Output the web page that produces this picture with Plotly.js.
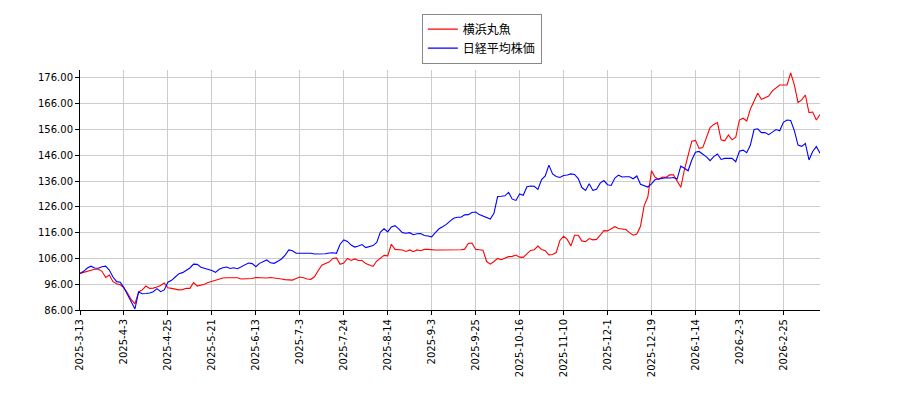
<!DOCTYPE html>
<html>
<head>
<meta charset="utf-8">
<script src="https://cdn.plot.ly/plotly-3.0.1.min.js"></script>
<style>
  body { margin: 0; background: #fff; }
  #chart { width: 900px; height: 400px; }
</style>
</head>
<body>
<div id="chart"></div>
<script>
const tickLabels = ['2025-3-13', '2025-4-3', '2025-4-25', '2025-5-21', '2025-6-13', '2025-7-3',
  '2025-7-24', '2025-8-14', '2025-9-3', '2025-9-25', '2025-10-16', '2025-11-10', '2025-12-1',
  '2025-12-19', '2026-1-14', '2026-2-3', '2026-2-25'];
const tickStep = 12;

/* 横浜丸魚 (red) */
const stockValues = [
  100.2, 100.6, 101.1, 101.6, 101.8, 101.8, 101.0, 98.6, 99.6, 97.0, 96.2, 95.8,
  94.6, 92.5, 90.0, 88.4, 93.0, 93.8, 95.3, 94.4, 94.5, 94.9, 95.5, 96.5,
  94.6, 94.4, 94.2, 93.8, 93.9, 94.4, 94.4, 96.6, 95.3, 95.6, 96.0, 96.7,
  97.1, 97.5, 98.1, 98.4, 98.5, 98.5, 98.5, 98.5, 98.0, 98.0, 98.0, 98.2,
  98.6, 98.5, 98.5, 98.4, 98.6, 98.3, 98.2, 98.0, 97.8, 97.6, 97.6, 98.2,
  98.8, 98.5, 98.0, 97.9, 98.9, 101.2, 103.4, 104.0, 104.6, 106.0, 106.2, 103.7,
  104.2, 106.0, 105.2, 105.8, 105.2, 105.2, 104.0, 103.5, 102.9, 105.0, 106.0, 107.2,
  107.0, 111.5, 109.5, 109.3, 109.3, 108.7, 109.3, 108.6, 109.3, 109.0, 109.5, 109.5,
  109.3, 109.3, 109.3, 109.3, 109.3, 109.3, 109.3, 109.3, 109.4, 109.6, 111.8, 112.0,
  109.5, 109.4, 109.2, 104.8, 103.8, 104.8, 106.0, 105.5, 106.0, 106.7, 106.8, 107.3,
  106.5, 106.4, 107.8, 109.1, 109.4, 110.8, 109.5, 109.0, 107.4, 107.5, 108.3, 113.0,
  114.6, 113.4, 110.8, 115.0, 115.0, 112.8, 112.5, 113.7, 113.2, 113.4, 115.0, 116.8,
  116.7, 117.5, 118.3, 117.6, 117.3, 117.2, 116.0, 115.0, 115.5, 118.5, 126.5, 129.8,
  140.0, 137.5, 136.7, 137.6, 137.5, 138.4, 138.4, 136.0, 133.6, 140.5, 145.5, 151.5,
  151.8, 148.7, 149.0, 153.2, 156.8, 158.0, 158.7, 152.0, 151.6, 153.9, 152.0, 153.0,
  159.7, 160.4, 159.3, 164.0, 167.0, 170.1, 167.7, 168.2, 169.0, 171.0, 172.0, 173.3,
  173.3, 173.3, 178.0, 173.3, 166.5, 167.5, 169.4, 162.6, 162.8, 159.7, 161.8
];

/* 日経平均株価 (blue) */
const nikkeiValues = [
  100.2, 101.0, 102.3, 103.0, 102.3, 102.2, 102.8, 103.0, 101.5, 98.8, 97.0, 96.8,
  94.6, 91.8, 89.3, 86.4, 93.0, 92.3, 92.4, 92.6, 93.1, 94.3, 93.1, 93.8,
  96.8, 97.5, 98.8, 100.1, 100.5, 101.3, 102.3, 103.8, 103.7, 102.6, 102.2, 101.9,
  101.3, 100.6, 101.8, 102.4, 102.7, 102.1, 102.4, 102.0, 102.8, 103.4, 104.2, 104.0,
  102.8, 104.1, 104.7, 105.4, 104.3, 104.1, 104.9, 105.8, 107.3, 109.3, 109.0, 108.0,
  108.0, 108.0, 107.8, 108.0, 107.7, 107.7, 107.6, 107.8, 108.1, 108.2, 108.0, 111.5,
  113.2, 112.6, 111.2, 110.4, 110.8, 111.4, 110.2, 110.6, 111.0, 112.2, 116.2, 117.5,
  116.3, 118.2, 118.7, 117.5, 116.0, 115.8, 116.0, 115.2, 115.6, 115.7, 114.9, 114.7,
  114.4, 116.0, 117.5, 118.3, 119.2, 120.5, 121.6, 122.0, 122.0, 122.9, 123.0, 123.8,
  124.0, 123.0, 122.4, 121.6, 121.3, 123.5, 130.0, 130.1, 130.3, 131.6, 129.0, 128.5,
  131.0, 130.5, 133.8, 134.1, 134.0, 132.8, 136.6, 138.0, 142.2, 138.8, 137.8, 137.4,
  138.2, 138.4, 138.8, 138.6, 137.0, 133.5, 132.4, 135.0, 132.4, 132.8, 135.2, 136.2,
  134.6, 134.3, 137.2, 138.3, 137.6, 137.7, 137.7, 136.9, 138.0, 134.8, 134.1, 133.7,
  134.9, 136.6, 136.8, 137.1, 137.3, 137.2, 137.4, 136.8, 141.8, 141.0, 140.0, 144.2,
  147.2, 147.5, 146.6, 145.4, 143.9, 145.5, 146.5, 144.4, 144.8, 144.8, 144.8, 143.5,
  147.6, 148.0, 147.0, 150.0, 156.0, 156.3, 154.8, 154.8, 154.0, 155.0, 156.0, 155.5,
  158.8, 159.7, 159.5, 155.6, 150.0, 149.5, 150.6, 144.2, 147.5, 149.4, 146.8
];

const seriesNames = ['横浜丸魚', '日経平均株価'];
const seriesColors = ['#ff0000', '#0000ff'];

const xIndex = stockValues.map((v, i) => i);

const traces = [stockValues, nikkeiValues].map((vals, k) => ({
  x: xIndex,
  y: vals,
  name: seriesNames[k],
  type: 'scatter',
  mode: 'lines',
  line: { color: seriesColors[k], width: 1.1 },
}));

const tickFont = { family: 'DejaVu Sans', size: 10, color: '#000' };

const layout = {
  width: 900,
  height: 400,
  margin: { l: 80, r: 80, t: 70, b: 90 },
  paper_bgcolor: '#fff',
  plot_bgcolor: '#fff',
  showlegend: true,
  legend: {
    x: 0.543,
    y: 1.235,
    xanchor: 'center',
    yanchor: 'top',
    bordercolor: '#888',
    borderwidth: 1,
    font: { family: 'Noto Sans CJK JP', size: 12, color: '#000' },
    itemwidth: 30,
    tracegroupgap: 0,
  },
  xaxis: {
    range: [0, stockValues.length - 1],
    tickvals: tickLabels.map((t, i) => i * tickStep),
    ticktext: tickLabels,
    tickangle: -90,
    ticks: 'outside',
    ticklen: 4,
    tickcolor: '#000',
    tickfont: tickFont,
    showgrid: true,
    gridcolor: '#cccccc',
    gridwidth: 1,
    showline: true,
    linecolor: '#000',
    linewidth: 1,
    zeroline: false,
  },
  yaxis: {
    range: [86, 179.1],
    tick0: 86,
    dtick: 10,
    tickformat: '.2f',
    ticks: 'outside',
    ticklen: 4,
    tickcolor: '#000',
    tickfont: tickFont,
    showgrid: true,
    gridcolor: '#cccccc',
    gridwidth: 1,
    showline: true,
    linecolor: '#000',
    linewidth: 1,
    zeroline: false,
  },
};

const config = { displayModeBar: false, responsive: false };

Plotly.newPlot('chart', traces, layout, config);
</script>
</body>
</html>
